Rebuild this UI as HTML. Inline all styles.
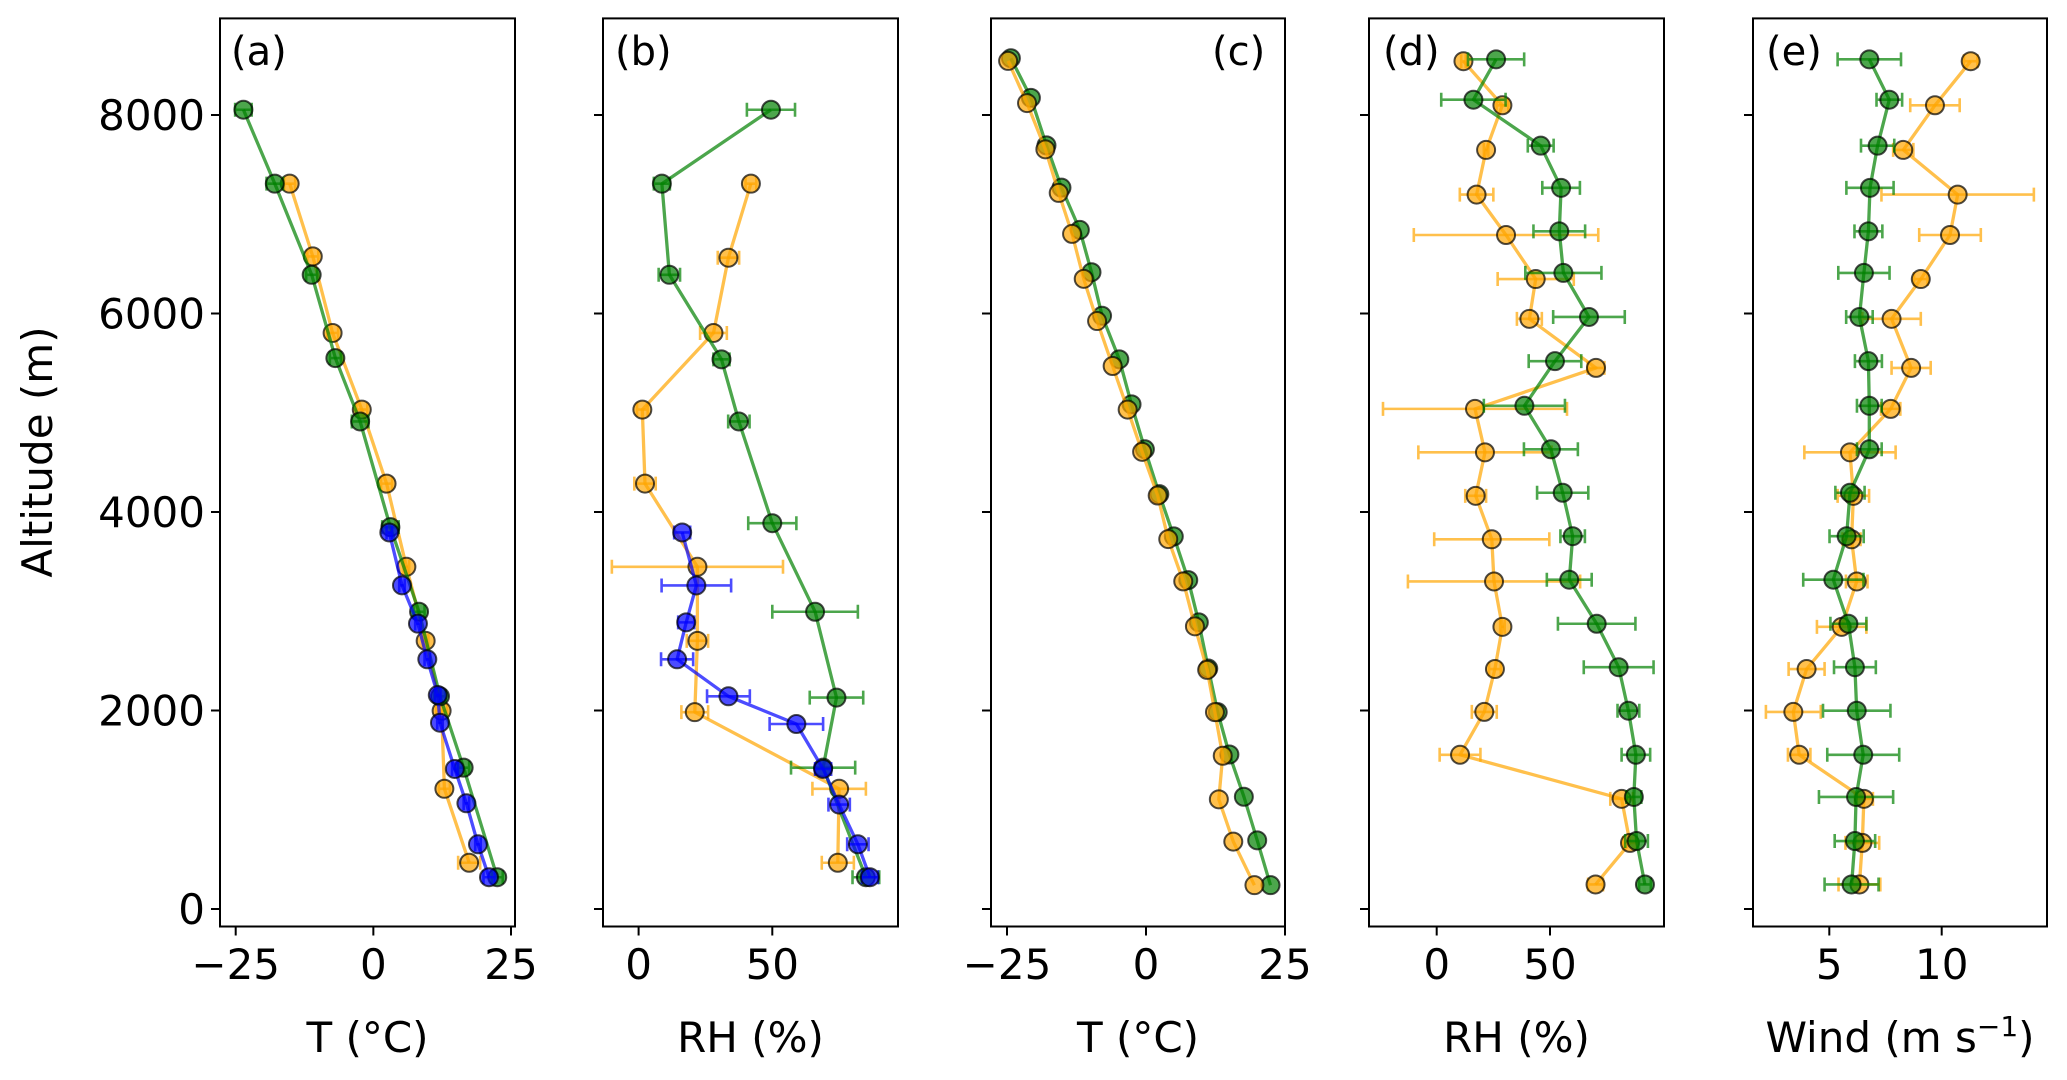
<!DOCTYPE html>
<html><head><meta charset="utf-8"><style>
html,body{margin:0;padding:0;background:#fff;}
svg{display:block;font-family:"DejaVu Sans","Liberation Sans",sans-serif;}
</style></head><body>
<svg id="fig" width="2067" height="1080" viewBox="0 0 2067 1080" xmlns="http://www.w3.org/2000/svg"></svg>
<script>
// ---- Panel (a) T ----
const aGreenAlt=[8053,7308,6390,5551,4912,3847,2995,2143,1424,320];
const aGreenVal=[-23.6,-17.9,-11.2,-6.9,-2.4,3.1,8.3,12.1,16.4,22.5];
const aGreenErr=[1.5,1.5,1,1,1.5,1.5,1,1,1,1];
const aOrangeAlt=[7308,6575,5804,5032,4286,3448,2702,1997,1211,466];
const aOrangeVal=[-15.2,-11,-7.4,-2.1,2.4,6,9.5,12.4,12.9,17.4];
const aOrangeErr=[1,1,1,1,1,0.5,0.5,1,1,2];
const aBlueAlt=[3794,3261,2875,2516,2156,1877,1411,1065,652,320];
const aBlueVal=[2.9,5.2,8.1,9.8,11.7,12.1,14.8,16.9,19,21];
const aBlueErr=[0.5,0.5,0.5,0.5,0.5,0.5,0.5,0.5,0.5,1];
// ---- Panel (b) RH ----
const bGreenAlt=[8053,7308,6390,5538,4912,3887,2995,2130,1424,320];
const bGreenVal=[49.5,8.7,11.5,31,37.5,50,66,74,69,85];
const bGreenErr=[9,3,4,3,4,9,16,10,12,5];
const bOrangeAlt=[7308,6562,5804,5032,4286,3448,2702,1983,1211,466];
const bOrangeVal=[42,33.6,28,1.4,2.4,22,22,21,75,74.5];
const bOrangeErr=[2,4,5,2,4,32,4,5,10,6];
const bBlueAlt=[3794,3260,2888,2516,2143,1864,1411,1052,652,320];
const bBlueVal=[16.3,21.6,17.8,14.4,33.6,59,69,75,82,86.5];
const bBlueErr=[3,13,3,6,8,10,3,4,4,3];
// ---- Panel (c) T ----
const cGreenAlt=[8572,8173,7694,7268,6842,6416,5977,5538,5085,4632,4180,3754,3314,2888,2423,1983,1557,1131,692,240];
const cGreenVal=[-24.3,-20.7,-17.9,-15.2,-11.9,-9.8,-7.9,-4.8,-2.6,-0.2,2.4,5,7.6,9.5,11.2,12.9,15,17.6,20,22.4];
const cOrangeAlt=[8545,8120,7654,7215,6802,6349,5924,5471,5032,4606,4166,3727,3301,2848,2409,1983,1544,1105,679,240];
const cOrangeVal=[-24.8,-21.4,-18.1,-15.7,-13.3,-11.2,-8.8,-6,-3.3,-0.7,2.1,4,6.7,8.8,11,12.4,13.8,13.1,15.7,19.5];
// ---- Panel (d) RH ----
const dGreenAlt=[8561,8154,7691,7266,6828,6409,5965,5520,5070,4632,4194,3756,3318,2874,2436,1998,1554,1129,685,247];
const dGreenVal=[26.2,16.2,45.9,54.9,54.1,55.9,67.2,52.2,38.7,50.4,55.6,60,58.5,70.6,80.3,84.6,87.9,87,88.2,91.9];
const dGreenErr=[12.4,14.2,5.7,8.3,11.4,16.8,15.8,11.6,17.9,11.9,11.3,5.4,9.9,17.1,15.4,4.8,6.3,3.3,5,2.6];
const dOrangeAlt=[8542,8098,7648,7198,6791,6347,5946,5452,5039,4601,4163,3725,3300,2843,2418,1986,1554,1110,666,247];
const dOrangeVal=[11.8,29,21.8,17.6,30.6,43.7,40.9,70.3,16.9,21.3,17.2,24.3,25.3,29,25.7,21,10.3,81.6,85.3,70.1];
const dOrangeErr=[1,2.6,1,7.4,40.7,16.8,5.5,3.7,40.6,29.4,4.6,25.4,38,1,2.6,5.5,9,5,3,3.3];
// ---- Panel (e) Wind ----
const eGreenAlt=dGreenAlt;
const eGreenVal=[6.78,7.67,7.15,6.81,6.74,6.54,6.34,6.74,6.78,6.78,5.92,5.77,5.18,5.85,6.14,6.22,6.51,6.19,6.14,5.99];
const eGreenErr=[1.41,0.57,0.74,1.05,0.62,1.14,0.59,0.6,0.55,0.55,0.65,0.76,1.34,0.8,0.93,1.5,1.6,1.65,0.9,1.2];
const eOrangeAlt=dOrangeAlt;
const eOrangeVal=[11.29,9.7,8.29,10.71,10.37,9.07,7.77,8.64,7.73,5.92,6.07,5.99,6.22,5.55,3.99,3.4,3.66,6.54,6.47,6.34];
const eOrangeErr=[0.3,1.1,0.45,3.39,1.37,0.3,1.3,0.87,0.43,2.03,0.7,0.4,0.48,1.1,0.8,1.22,0.5,0.4,0.75,0.93];
// tick labels
const yTicks=[0,2000,4000,6000,8000];
const aTicks=[-25,0,25], bTicks=[0,50], cTicks=[-25,0,25], dTicks=[0,50], eTicks=[5,10];

const NS="http://www.w3.org/2000/svg";
const svg=document.getElementById('fig');
const TOP=18.4,BOT=926.5;
function yScale(v){return 909+(115-909)*v/8000;}
function mk(tag,attrs,parent){const e=document.createElementNS(NS,tag);for(const k in attrs)e.setAttribute(k,attrs[k]);(parent||svg).appendChild(e);return e;}
const COL={g:'#008000',o:'#FFA500',b:'#0000FF'};

function panel(name,L,R,v0,v1,p0,p1,ticks,xlabel,letter,letterX,series,showY){
  const g=mk('g',{});
  
  
  const xs=v=>p0+(p1-p0)*(v-v0)/(v1-v0);
  // series
  series.forEach(s=>{
    const sg=mk('g',{},g);
    
    
    const pts=s.vals.map((v,i)=>xs(v).toFixed(1)+','+yScale(s.alts[i]).toFixed(1)).join(' ');
    const pl=mk('polyline',{points:pts,fill:'none',stroke:COL[s.c],'stroke-width':3.3,'stroke-opacity':0.7,'stroke-linejoin':'round'},sg);
    
    
    if(s.errs){s.vals.forEach((v,i)=>{
      const y=yScale(s.alts[i]),x1=xs(v-s.errs[i]),x2=xs(v+s.errs[i]);
      const eb=mk('path',{d:`M${x1},${y}H${x2}M${x1},${y-7}V${y+7}M${x2},${y-7}V${y+7}`,stroke:COL[s.c],'stroke-width':2.6,'stroke-opacity':0.7,fill:'none'},sg);
      
      
    });}
    s.vals.forEach((v,i)=>{
      const c=mk('circle',{cx:xs(v),cy:yScale(s.alts[i]),r:9,fill:COL[s.c],'fill-opacity':0.7,stroke:'#000','stroke-opacity':0.7,'stroke-width':2},sg);
      
      
    });
  });
  // frame
  const fr=mk('rect',{x:L,y:TOP,width:R-L,height:BOT-TOP,fill:'none',stroke:'#000','stroke-width':2},g);
  
  
  // y ticks
  yTicks.forEach(t=>{
    const y=yScale(t);
    mk('line',{x1:L-9,x2:L,y1:y,y2:y,stroke:'#000','stroke-width':2},g);
    if(showY){
      const tx=mk('text',{x:L-15,y:y+15,'font-size':42,'text-anchor':'end'},g);
      tx.textContent=t;
      
      
    }
  });
  ticks.forEach(t=>{
    const x=xs(t);
    mk('line',{x1:x,x2:x,y1:BOT,y2:BOT+9,stroke:'#000','stroke-width':2},g);
    const tx=mk('text',{x:x,y:979,'font-size':42,'text-anchor':'middle'},g);
    tx.textContent=t<0?'\u2212'+(-t):String(t);
    
    
  });
  const xl=mk('text',{x:(L+R)/2,y:1052,'font-size':42,'text-anchor':'middle'},g);
  xl.innerHTML=xlabel;
  
  
  const pl=mk('text',{x:letterX,y:65,'font-size':40},g);
  pl.textContent=letter;
  
  
}

panel('a',220,515,-25,25,235.7,511,aTicks,'T (°C)','(a)',231,[
 {id:'orange',c:'o',alts:aOrangeAlt,vals:aOrangeVal,errs:aOrangeErr},
 {id:'green',c:'g',alts:aGreenAlt,vals:aGreenVal,errs:aGreenErr},
 {id:'blue',c:'b',alts:aBlueAlt,vals:aBlueVal,errs:aBlueErr}],true);
panel('b',603,898,0,50,638.6,772.3,bTicks,'RH (%)','(b)',615,[
 {id:'orange',c:'o',alts:bOrangeAlt,vals:bOrangeVal,errs:bOrangeErr},
 {id:'green',c:'g',alts:bGreenAlt,vals:bGreenVal,errs:bGreenErr},
 {id:'blue',c:'b',alts:bBlueAlt,vals:bBlueVal,errs:bBlueErr}],false);
panel('c',991,1285,-25,25,1007,1285,cTicks,'T (°C)','(c)',1212,[
 {id:'green',c:'g',alts:cGreenAlt,vals:cGreenVal,errs:null},
 {id:'orange',c:'o',alts:cOrangeAlt,vals:cOrangeVal,errs:null}],false);
panel('d',1369,1664,0,50,1436.7,1550,dTicks,'RH (%)','(d)',1383,[
 {id:'orange',c:'o',alts:dOrangeAlt,vals:dOrangeVal,errs:dOrangeErr},
 {id:'green',c:'g',alts:dGreenAlt,vals:dGreenVal,errs:dGreenErr}],false);
panel('e',1753,2047,5,10,1829.3,1941.7,eTicks,'Wind (m s<tspan font-size="28" dy="-16">\u22121</tspan><tspan dy="16">)</tspan>','(e)',1766,[
 {id:'orange',c:'o',alts:eOrangeAlt,vals:eOrangeVal,errs:eOrangeErr},
 {id:'green',c:'g',alts:eGreenAlt,vals:eGreenVal,errs:eGreenErr}],false);

const yl=mk('text',{x:0,y:0,'font-size':42,'text-anchor':'middle',transform:'translate(52,452) rotate(-90)'});
yl.textContent='Altitude (m)';


</script>
</body></html>
